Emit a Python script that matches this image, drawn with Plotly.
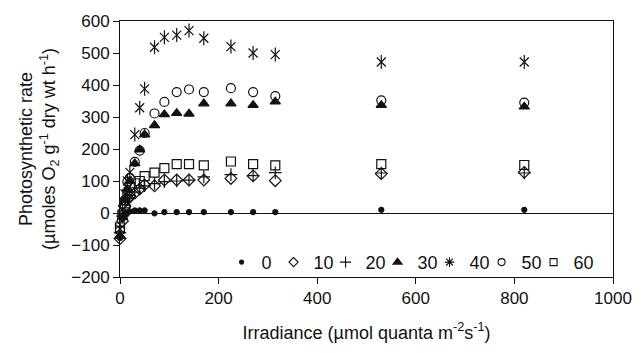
import plotly.graph_objects as go

# Irradiance levels (µmol quanta m-2 s-1)
irradiance = [0, 5, 10, 15, 20, 30, 40, 50, 70, 90, 115, 140, 170, 225, 270, 315, 530, 820]

# Photosynthetic rate (µmoles O2 g-1 dry wt h-1) for each series
rate_0 = [-78, -20, -5, 0, 5, 8, 8, 8, -1, 3, 3, 3, 3, 3, 3, 3, 10, 10]
rate_10 = [-80, -25, 20, 42, 52, 62, 75, 88, 85, 103, 103, 103, 103, 108, 116, 101, 123, 127]
rate_20 = [-62, -10, 25, 45, 55, 65, 78, 85, 92, 98, 100, 103, 113, 120, 117, 126, 125, 125]
rate_30 = [-72, -12, 40, 75, 100, 155, 198, 245, 274, 308, 312, 310, 342, 342, 337, 348, 337, 332]
rate_40 = [-50, 10, 60, 100, 127, 245, 329, 388, 518, 549, 556, 570, 546, 520, 500, 495, 472, 472]
rate_50 = [-55, 0, 40, 98, 110, 160, 195, 250, 311, 347, 378, 386, 378, 390, 378, 365, 352, 345]
rate_60 = [-45, -5, 30, 60, 80, 93, 100, 115, 126, 140, 153, 153, 149, 161, 153, 149, 153, 150]

series_names = ["0", "10", "20", "30", "40", "50", "60"]

INK = "#111111"

fig = go.Figure()


def add_series(values, symbol, size, lw=1.2):
    fig.add_trace(go.Scatter(
        x=irradiance, y=values, mode="markers", showlegend=False,
        cliponaxis=False, hoverinfo="x+y",
        marker=dict(symbol=symbol, size=size, color=INK,
                    line=dict(color=INK, width=lw)),
    ))


def add_key(name, symbol, size, width=None):
    # empty trace: only supplies a compact legend entry
    fig.add_trace(go.Scatter(
        x=[None], y=[None], mode="markers", name=name, showlegend=True,
        legendwidth=width,
        marker=dict(symbol=symbol, size=size, color=INK,
                    line=dict(color=INK, width=1.1)),
    ))


add_series(rate_0, "circle", 5)
add_series(rate_10, "diamond-open", 9)
add_series(rate_20, "cross-thin-open", 9)
add_series(rate_30, "triangle-up", 9)
# six-armed star: an x with a vertical stroke
add_series(rate_40, "x-thin-open", 9)
add_series(rate_40, "line-ns-open", 10)
add_series(rate_50, "circle-open", 9)
add_series(rate_60, "square-open", 9)

add_key(series_names[0], "circle", 4)
add_key(series_names[1], "diamond-open", 7)
add_key(series_names[2], "cross-thin-open", 8)
add_key(series_names[3], "triangle-up", 8)
add_key(series_names[4], "asterisk-open", 8)
add_key(series_names[5], "circle-open", 7)
add_key(series_names[6], "square-open", 7, width=24)

font_family = "Liberation Sans, Arial, sans-serif"

fig.update_layout(
    width=644, height=353,
    margin=dict(l=119.5, r=20, t=15, b=76),
    paper_bgcolor="white", plot_bgcolor="white",
    font=dict(family=font_family, size=17, color=INK),
    showlegend=True,
    legend=dict(
        orientation="h", x=0.206, y=0.057, xanchor="left", yanchor="middle",
        bgcolor="rgba(0,0,0,0)", font=dict(size=18), itemwidth=30,
        entrywidth=7, entrywidthmode="pixels",
        traceorder="normal",
    ),
    xaxis=dict(
        range=[0, 1000], dtick=200, tick0=0,
        showline=True, linecolor=INK, linewidth=1, mirror=True,
        ticks="outside", ticklen=6, tickcolor=INK,
        showgrid=False, zeroline=False,
        title=dict(text="Irradiance (µmol quanta m<sup>-2</sup>s<sup>-1</sup>)",
                   font=dict(size=18), standoff=18),
    ),
    yaxis=dict(
        range=[-200, 600], dtick=100, tick0=0,
        showline=True, linecolor=INK, linewidth=1, mirror=True,
        ticks="outside", ticklen=6, tickcolor=INK,
        showgrid=False, zeroline=True, zerolinecolor=INK, zerolinewidth=1,
        title=dict(text="Photosynthetic rate<br>(µmoles O<sub>2</sub> g<sup>-1</sup> dry wt h<sup>-1</sup>)",
                   font=dict(size=18), standoff=10),
    ),
)

fig.write_html("out.html")
